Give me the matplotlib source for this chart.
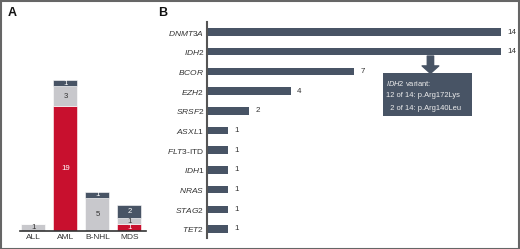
import matplotlib
matplotlib.use("Agg")
import matplotlib.pyplot as plt
from matplotlib.patches import Rectangle

plt.rcParams['font.family'] = ['Liberation Sans', 'DejaVu Sans']
plt.rcParams['mathtext.fontset'] = 'custom'
plt.rcParams['mathtext.it'] = 'Liberation Sans:italic'
plt.rcParams['mathtext.rm'] = 'Liberation Sans'

# Panel A data
diseases = ["ALL", "AML", "B-NHL", "MDS"]
seg_red = [0, 19, 0, 1]
seg_gray = [1, 3, 5, 1]
seg_dark = [0, 1, 1, 2]

# Panel B data
genes = ["DNMT3A", "IDH2", "BCOR", "EZH2", "SRSF2", "ASXL1", "FLT3-ITD",
         "IDH1", "NRAS", "STAG2", "TET2"]
gene_counts = [14, 14, 7, 4, 2, 1, 1, 1, 1, 1, 1]
gene_labels = ["$\\mathit{DNMT3A}$", "$\\mathit{IDH2}$", "$\\mathit{BCOR}$",
               "$\\mathit{EZH2}$", "$\\mathit{SRSF2}$", "$\\mathit{ASXL1}$",
               "$\\mathit{FLT3}$-ITD", "$\\mathit{IDH1}$", "$\\mathit{NRAS}$",
               "$\\mathit{STAG2}$", "$\\mathit{TET2}$"]

RED = "#C8102E"
GRAY = "#C8C8CC"
DARK = "#485465"
TXT = "#333333"

W, H = 520, 249
fig = plt.figure(figsize=(W / 100, H / 100), dpi=100)

def px_axes(x0, y0, x1, y1):
    return fig.add_axes([x0 / W, 1 - y1 / H, (x1 - x0) / W, (y1 - y0) / H])

# ---------- Panel A ----------
axA = px_axes(20, 22, 146, 231)
x = list(range(len(diseases)))
bw = 0.75
bottoms = [0] * 4
for vals, col, tcol in [(seg_red, RED, "white"), (seg_gray, GRAY, TXT), (seg_dark, DARK, "white")]:
    axA.bar(x, vals, bw, bottom=bottoms, color=col, edgecolor="white", linewidth=0.4)
    for i, v in enumerate(vals):
        if v > 0:
            axA.text(i, bottoms[i] + v / 2, str(v), ha="center", va="center",
                     color=tcol, fontsize=5.6)
    bottoms = [b + v for b, v in zip(bottoms, vals)]
axA.set_xlim(-0.42, 3.52)
axA.set_ylim(0, 209 / 6.57)
for s in ["top", "right", "left"]:
    axA.spines[s].set_visible(False)
axA.spines["bottom"].set_color("#333333")
axA.spines["bottom"].set_linewidth(1.2)
axA.set_yticks([])
axA.set_xticks(x)
axA.set_xticklabels(diseases, fontsize=6.0, color=TXT)
axA.tick_params(axis="x", length=0, pad=2)

# ---------- Panel B ----------
axB = px_axes(207, 22, 515, 238)
y = list(range(len(genes)))
axB.barh(y, gene_counts, height=0.38, color=DARK)
for i, v in enumerate(gene_counts):
    axB.text(v + 0.3, i, str(v), va="center", ha="left", fontsize=5.8, color=TXT)
axB.set_ylim(10.46, -0.51)
axB.set_xlim(0, 14.67)
for s in ["top", "right", "bottom"]:
    axB.spines[s].set_visible(False)
axB.spines["left"].set_color("#555555")
axB.spines["left"].set_linewidth(1.5)
axB.set_xticks([])
axB.set_yticks(y)
axB.set_yticklabels(gene_labels, fontsize=6.0, color=TXT)
axB.tick_params(axis="y", length=0, pad=2)

# annotation box with arrow
box_x0, box_x1 = (383 - 207) / 21, (472 - 207) / 21
box_y0, box_y1 = (73 - 32) / 19.7, (116 - 32) / 19.7
axB.add_patch(Rectangle((box_x0, box_y0), box_x1 - box_x0, box_y1 - box_y0,
                        facecolor=DARK, edgecolor="none", zorder=3))
arr_x = (430.5 - 207) / 21
axB.annotate("", xy=(arr_x, box_y0 + 0.02), xytext=(arr_x, (56 - 32) / 19.7),
             arrowprops=dict(arrowstyle="simple,head_length=0.45,head_width=1.0,tail_width=0.38",
                             mutation_scale=12, color=DARK, shrinkA=0, shrinkB=0),
             zorder=3)
tx = (386 - 207) / 21
axB.text(tx, (83 - 32) / 19.7, "$\\mathit{IDH2}$ variant:", color="#EEEEEE",
         fontsize=5.4, va="center", ha="left", zorder=4)
axB.text(tx, (95 - 32) / 19.7, "12 of 14: p.Arg172Lys", color="#EEEEEE",
         fontsize=5.4, va="center", ha="left", zorder=4)
axB.text(tx, (108 - 32) / 19.7, "  2 of 14: p.Arg140Leu", color="#EEEEEE",
         fontsize=5.4, va="center", ha="left", zorder=4)

# panel labels
fig.text(12 / W, 1 - 13 / H, "A", fontsize=9, fontweight="bold", va="center", ha="center", color="#111111")
fig.text(163 / W, 1 - 13 / H, "B", fontsize=9, fontweight="bold", va="center", ha="center", color="#111111")

# frame
fig.add_artist(Rectangle((0.5 / W, 0.5 / H), 1 - 1.5 / W, 1 - 1.5 / H, transform=fig.transFigure,
                         fill=False, edgecolor="#666666", linewidth=1.5))

fig.savefig("out.png", dpi=100)
